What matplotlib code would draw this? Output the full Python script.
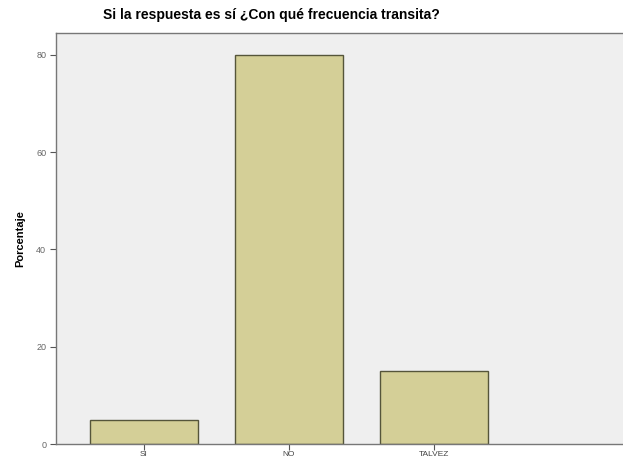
import matplotlib.pyplot as plt

# Datos
categorias = ['SI', 'NO', 'TALVEZ']
porcentajes = [5, 80, 15]
ticks_y = [0, 20, 40, 60, 80]

plt.rcParams['font.family'] = ['Liberation Sans', 'DejaVu Sans']

fig = plt.figure(figsize=(6.23, 4.59), dpi=100)
fig.patch.set_facecolor('white')

# El eje se sale por la derecha, como en la imagen recortada
ax = fig.add_axes([56 / 623, 15 / 459, (660 - 56) / 623, 411 / 459])
ax.set_facecolor('#efefef')

x = range(len(categorias))
ax.bar(x, porcentajes, width=0.745, color='#d4cf97', edgecolor='#55553a', linewidth=1.0, zorder=2)

ax.set_xlim(-0.607, 2 + (660 - 434) / 145)
ax.set_ylim(0, 84.5)
ax.set_xticks(list(x))
ax.set_xticklabels(categorias, fontsize=6, color='#444444')
ax.set_yticks(ticks_y)
ax.set_yticklabels([str(v) for v in ticks_y], fontsize=6.5, color='#666666')
ax.tick_params(axis='both', direction='out', length=4, width=0.8, color='#555555', pad=3)
ax.tick_params(axis='x', pad=1)

for lado in ['left', 'bottom', 'top']:
    ax.spines[lado].set_color('#777777')
    ax.spines[lado].set_linewidth(1.0)
ax.spines['right'].set_visible(False)

ax.set_ylabel('Porcentaje', fontsize=8, fontweight='bold', labelpad=8)

fig.text(271 / 623, 1 - 15 / 459, 'Si la respuesta es sí ¿Con qué frecuencia transita?',
         ha='center', va='center', fontsize=10, fontweight='bold')

fig.savefig('out.png', dpi=100)
